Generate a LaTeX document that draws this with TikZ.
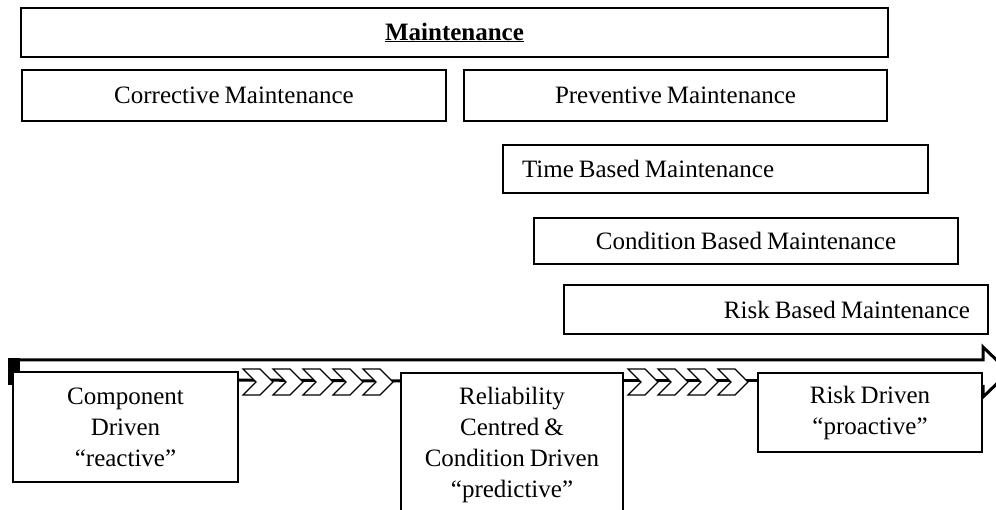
\documentclass[tikz,border=0pt]{standalone}
\usepackage{fontspec}
\setmainfont{Liberation Serif}[WordSpace=0.7]
\usetikzlibrary{calc}

\newcommand\tightspace{\spaceskip 5pt\relax\xspaceskip 5pt\relax}

\tikzset{
  box/.style = {draw, line width=2pt, fill=white, inner sep=0pt,
    font=\fontsize{25}{31}\selectfont, execute at begin node=\tightspace},
  phasebox/.style = {box, align=center, inner xsep=5pt},
  chevron/.style = {draw, line width=1.2pt, fill=white, line join=miter},
  link/.style = {line width=3pt},
}

\begin{document}
\begin{tikzpicture}[x=1pt, y=-1pt]
\useasboundingbox (0,0) rectangle (996,510);
\clip (0,0) rectangle (996,510);

% maintenance types
\node[box, minimum width=867pt, minimum height=49pt] (maint) at (454.5,32.5)
  {\textbf{\underline{Maintenance}}};
\node[box, minimum width=424pt, minimum height=51pt] (corr) at (234,95.5)
  {Corrective Maintenance};
\node[box, minimum width=423pt, minimum height=51pt] (prev) at (675.5,95.5)
  {Preventive Maintenance};
\node[box, minimum height=48pt, text width=387pt, inner xsep=19pt, align=left] (tbm) at (715.5,169)
  {Time Based Maintenance};
\node[box, minimum width=424pt, minimum height=46pt] (cbm) at (746,241)
  {Condition Based Maintenance};
\node[box, minimum height=49pt, text width=388pt, inner xsep=18pt, align=right] (rbm) at (776,309.5)
  {Risk Based Maintenance};

% time line
\draw[line width=3pt, line join=miter] (14,360) -- (983,360) -- (983,347) -- (1009,372)
  -- (983,397) -- (983,385);
\fill (8,358) rectangle (20,385);

\node[phasebox, text width=215pt, minimum height=110pt] (comp) at (125.5,427)
  {Component\\ Driven\\ ``reactive''};
\node[phasebox, text width=212pt, minimum height=144pt] (rel) at (512,445)
  {Reliability\\ Centred \&\\ Condition Driven\\ ``predictive''};
\node[phasebox, text width=214pt, minimum height=79pt] (risk) at (870,412.5)
  {Risk Driven\\ ``proactive''};

\draw[link] ([yshift=-9pt]comp.north east) -- ([yshift=-9pt]rel.north west);
\draw[link] ([yshift=-9pt]rel.north east) -- ([yshift=-9pt]risk.north west);

\foreach \x in {243,273,303,333,363}
  \draw[chevron] (\x,369) -- ++(17,0) -- ++(13,13) -- ++(-13,13) -- ++(-17,0) -- ++(13,-13) -- cycle;
\foreach \x in {628,658,688,718}
  \draw[chevron] (\x,369) -- ++(17,0) -- ++(13,13) -- ++(-13,13) -- ++(-17,0) -- ++(13,-13) -- cycle;
\end{tikzpicture}
\end{document}
